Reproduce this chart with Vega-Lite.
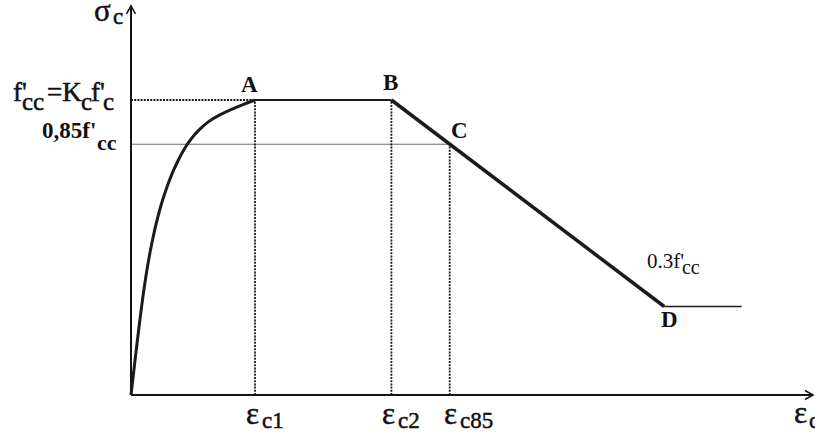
{
  "$schema": "https://vega.github.io/schema/vega-lite/v6.json",
  "description": "Confined concrete stress-strain model: ascending branch to f'cc, plateau, linear softening to 0.3f'cc and residual branch. Strain in per mille, stress normalised by f'cc.",
  "width": 815,
  "height": 440,
  "autosize": "none",
  "padding": 0,
  "background": "white",
  "config": {"view": {"stroke": null}, "font": "Liberation Serif"},
  "datasets": {
    "rise": [
      {"x": 0, "y": 0}, {"x": 0.056, "y": 0.102}, {"x": 0.113, "y": 0.203},
      {"x": 0.177, "y": 0.312}, {"x": 0.242, "y": 0.407}, {"x": 0.306, "y": 0.485},
      {"x": 0.387, "y": 0.566}, {"x": 0.468, "y": 0.634}, {"x": 0.565, "y": 0.697},
      {"x": 0.661, "y": 0.751}, {"x": 0.758, "y": 0.795}, {"x": 0.855, "y": 0.834},
      {"x": 0.968, "y": 0.869}, {"x": 1.097, "y": 0.9}, {"x": 1.258, "y": 0.929},
      {"x": 1.419, "y": 0.949}, {"x": 1.613, "y": 0.968}, {"x": 1.806, "y": 0.985},
      {"x": 2.0, "y": 1.0}
    ],
    "plateau": [{"x": 2.0, "y": 1.0}, {"x": 4.2, "y": 1.0}],
    "softening": [{"x": 4.2, "y": 1.0}, {"x": 8.6, "y": 0.3}],
    "residual": [{"x": 8.6, "y": 0.3}, {"x": 9.85, "y": 0.3}],
    "guides": [
      {"x": 0, "y": 1.0, "x2": 2.0, "y2": 1.0, "kind": "dotted"},
      {"x": 2.0, "y": 0, "x2": 2.0, "y2": 1.0, "kind": "dotted"},
      {"x": 4.2, "y": 0, "x2": 4.2, "y2": 1.0, "kind": "dotted"},
      {"x": 5.14, "y": 0, "x2": 5.14, "y2": 0.85, "kind": "dotted"},
      {"x": 0, "y": 0.85, "x2": 5.14, "y2": 0.85, "kind": "solid"}
    ],
    "axes": [
      {"x": 0, "y": 0, "x2": 0, "y2": 1.319},
      {"x": 0, "y": 0, "x2": 11.0, "y2": 0}
    ],
    "arrows": [
      {"x": 0, "y": 1.319, "dir": "up"},
      {"x": 11.0, "y": 0, "dir": "right"}
    ],
    "labels": [
      {"t": "σ", "x": -0.597, "y": 1.268, "role": "sym"},
      {"t": "c", "x": -0.29, "y": 1.258, "role": "symsub"},
      {"t": "ε", "x": 1.855, "y": -0.0983, "role": "sym"},
      {"t": "c1", "x": 2.113, "y": -0.1119, "role": "symsub"},
      {"t": "ε", "x": 4.048, "y": -0.0983, "role": "sym"},
      {"t": "c2", "x": 4.306, "y": -0.1119, "role": "symsub"},
      {"t": "ε", "x": 5.048, "y": -0.0983, "role": "sym"},
      {"t": "c85", "x": 5.306, "y": -0.1119, "role": "symsub"},
      {"t": "ε", "x": 10.694, "y": -0.0949, "role": "sym"},
      {"t": "c", "x": 10.935, "y": -0.1119, "role": "symsub"},
      {"t": "f'", "x": -1.903, "y": 0.9966, "role": "lvl"},
      {"t": "cc", "x": -1.758, "y": 0.966, "role": "lvlsub"},
      {"t": "=K", "x": -1.355, "y": 0.9966, "role": "lvl"},
      {"t": "c", "x": -0.806, "y": 0.966, "role": "lvlsub"},
      {"t": "f'", "x": -0.645, "y": 0.9966, "role": "lvl"},
      {"t": "c", "x": -0.452, "y": 0.966, "role": "lvlsub"},
      {"t": "0.3f'", "x": 8.323, "y": 0.4305, "role": "note"},
      {"t": "cc", "x": 8.887, "y": 0.41, "role": "notesub"},
      {"t": "0,85f'", "x": -1.435, "y": 0.871, "role": "bold"},
      {"t": "cc", "x": -0.548, "y": 0.8305, "role": "boldsub"},
      {"t": "A", "x": 1.774, "y": 1.027, "role": "bold"},
      {"t": "B", "x": 4.065, "y": 1.034, "role": "bold"},
      {"t": "C", "x": 5.161, "y": 0.871, "role": "bold"},
      {"t": "D", "x": 8.548, "y": 0.2305, "role": "bold"}
    ]
  },
  "encoding": {
    "x": {"field": "x", "type": "quantitative", "axis": null,
          "scale": {"domain": [-2.1129, 11.0323], "nice": false, "zero": false}},
    "y": {"field": "y", "type": "quantitative", "axis": null,
          "scale": {"domain": [-0.15254, 1.33898], "nice": false, "zero": false}}
  },
  "layer": [
    {
      "data": {"name": "guides"},
      "transform": [{"filter": "datum.kind === 'solid'"}],
      "mark": {"type": "rule", "stroke": "#6e6a60", "strokeWidth": 1},
      "encoding": {"x2": {"field": "x2"}, "y2": {"field": "y2"}}
    },
    {
      "data": {"name": "guides"},
      "transform": [{"filter": "datum.kind === 'dotted'"}],
      "mark": {"type": "rule", "stroke": "#1e1a1a", "strokeWidth": 1.8, "strokeDash": [2, 1.2]},
      "encoding": {"x2": {"field": "x2"}, "y2": {"field": "y2"}}
    },
    {
      "data": {"name": "axes"},
      "mark": {"type": "rule", "stroke": "#151212", "strokeWidth": 2},
      "encoding": {"x2": {"field": "x2"}, "y2": {"field": "y2"}}
    },
    {
      "data": {"name": "arrows"},
      "mark": {"type": "point", "filled": false, "stroke": "#151212", "strokeWidth": 1.5, "size": 256, "opacity": 1},
      "encoding": {
        "shape": {"field": "dir", "type": "nominal", "legend": null,
                  "scale": {"domain": ["up", "right"], "range": ["M-0.56,1L0,0L0.56,1", "M-1,-0.56L0,0L-1,0.56"]}}
      }
    },
    {
      "data": {"name": "rise"},
      "mark": {"type": "line", "interpolate": "basis", "stroke": "#1e1a1a", "strokeWidth": 3}
    },
    {
      "data": {"name": "plateau"},
      "mark": {"type": "line", "stroke": "#1e1a1a", "strokeWidth": 2.2}
    },
    {
      "data": {"name": "softening"},
      "mark": {"type": "line", "stroke": "#1e1a1a", "strokeWidth": 3.5}
    },
    {
      "data": {"name": "residual"},
      "mark": {"type": "line", "stroke": "#1e1a1a", "strokeWidth": 1.5}
    },
    {
      "data": {"name": "labels"},
      "transform": [{"filter": "datum.role === 'sym'"}],
      "mark": {"type": "text", "align": "left", "baseline": "alphabetic", "font": "Liberation Serif", "fontSize": 31, "fill": "#111", "stroke": "#111", "strokeWidth": 0.5},
      "encoding": {"text": {"field": "t"}}
    },
    {
      "data": {"name": "labels"},
      "transform": [{"filter": "datum.role === 'symsub'"}],
      "mark": {"type": "text", "align": "left", "baseline": "alphabetic", "font": "Liberation Serif", "fontSize": 23, "fill": "#111", "stroke": "#111", "strokeWidth": 0.5},
      "encoding": {"text": {"field": "t"}}
    },
    {
      "data": {"name": "labels"},
      "transform": [{"filter": "datum.role === 'lvl'"}],
      "mark": {"type": "text", "align": "left", "baseline": "alphabetic", "font": "Liberation Serif", "fontSize": 27, "fill": "#111", "stroke": "#111", "strokeWidth": 0.5},
      "encoding": {"text": {"field": "t"}}
    },
    {
      "data": {"name": "labels"},
      "transform": [{"filter": "datum.role === 'lvlsub'"}],
      "mark": {"type": "text", "align": "left", "baseline": "alphabetic", "font": "Liberation Serif", "fontSize": 25, "fill": "#111", "stroke": "#111", "strokeWidth": 0.5},
      "encoding": {"text": {"field": "t"}}
    },
    {
      "data": {"name": "labels"},
      "transform": [{"filter": "datum.role === 'note'"}],
      "mark": {"type": "text", "align": "left", "baseline": "alphabetic", "font": "Liberation Serif", "fontSize": 21, "fill": "#111"},
      "encoding": {"text": {"field": "t"}}
    },
    {
      "data": {"name": "labels"},
      "transform": [{"filter": "datum.role === 'notesub'"}],
      "mark": {"type": "text", "align": "left", "baseline": "alphabetic", "font": "Liberation Serif", "fontSize": 20, "fill": "#111"},
      "encoding": {"text": {"field": "t"}}
    },
    {
      "data": {"name": "labels"},
      "transform": [{"filter": "datum.role === 'bold'"}],
      "mark": {"type": "text", "align": "left", "baseline": "alphabetic", "font": "Liberation Serif", "fontWeight": "bold", "fontSize": 23, "fill": "#111"},
      "encoding": {"text": {"field": "t"}}
    },
    {
      "data": {"name": "labels"},
      "transform": [{"filter": "datum.role === 'boldsub'"}],
      "mark": {"type": "text", "align": "left", "baseline": "alphabetic", "font": "Liberation Serif", "fontWeight": "bold", "fontSize": 22, "fill": "#111"},
      "encoding": {"text": {"field": "t"}}
    }
  ]
}
